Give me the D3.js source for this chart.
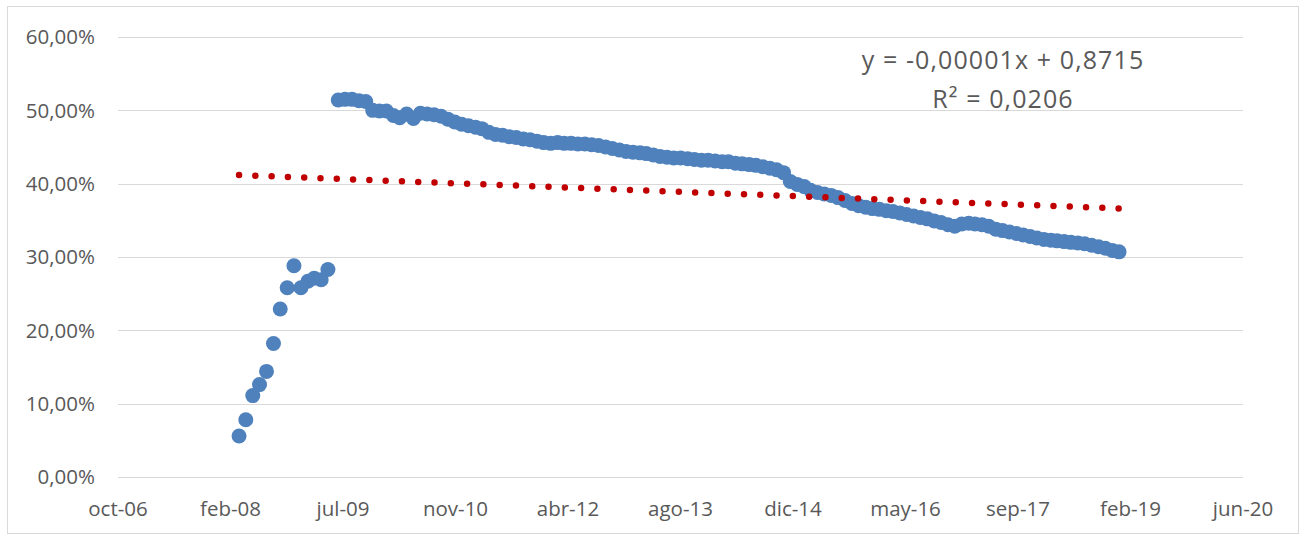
<!DOCTYPE html>
<html>
<head>
<meta charset="utf-8">
<script src="https://cdn.jsdelivr.net/npm/d3@7"></script>
<style>
  body { margin: 0; background: #fff; }
  text { font-family: "Open Sans", sans-serif; fill: #595959; }
</style>
</head>
<body>
<div id="chart"></div>
<script>
// monthly points, end of month (Mar-08 .. Apr-09), in %
var startDates = ['2008-03-31','2008-04-30','2008-05-31','2008-06-30','2008-07-31','2008-08-31',
  '2008-09-30','2008-10-31','2008-11-30','2008-12-31','2009-01-31','2009-02-28','2009-03-31','2009-04-30']
var startValues = [5.6, 7.8, 11.1, 12.6, 14.4, 18.2, 22.9, 25.8, 28.8, 25.8, 26.7, 27.1, 26.9, 28.3]

// dense part, one value per month (15th), by year, in %
var ratios2009 = [51.4, 51.5, 51.5, 51.3, 51.2, 50.0, 49.9]   // jun..dic
var ratios2010 = [49.9, 49.3, 49.0, 49.5, 48.9, 49.6, 49.5, 49.4, 49.2, 48.8, 48.4, 48.1]
var ratios2011 = [47.9, 47.7, 47.5, 47.0, 46.7, 46.6, 46.4, 46.3, 46.1, 46.0, 45.8, 45.6]
var ratios2012 = [45.5, 45.6, 45.5, 45.5, 45.4, 45.4, 45.3, 45.2, 45.0, 44.8, 44.6, 44.4]
var ratios2013 = [44.3, 44.2, 44.1, 43.9, 43.7, 43.6, 43.5, 43.5, 43.4, 43.3, 43.2, 43.2]
var ratios2014 = [43.1, 43.0, 43.0, 42.8, 42.7, 42.6, 42.5, 42.3, 42.1, 41.9, 41.5, 40.3]
var ratios2015 = [39.9, 39.6, 39.1, 38.8, 38.6, 38.4, 38.1, 37.7, 37.3, 37.0, 36.8, 36.6]
var ratios2016 = [36.5, 36.3, 36.2, 36.0, 35.8, 35.6, 35.4, 35.2, 34.9, 34.7, 34.4, 34.2]
var ratios2017 = [34.5, 34.6, 34.5, 34.4, 34.2, 33.8, 33.6, 33.4, 33.2, 33.0, 32.8, 32.6]
var ratios2018 = [32.4, 32.3, 32.2, 32.1, 32.0, 31.9, 31.8, 31.6, 31.4, 31.2, 30.9, 30.7]

// linear trend as printed by the chart (x = excel day serial)
var trendSlope = -0.00001163
var trendIntercept = 0.8715
var trendLabel = ['y = -0,00001x + 0,8715', 'R² = 0,0206']

var xTicks = [39000, 39500, 40000, 40500, 41000, 41500, 42000, 42500, 43000, 43500, 44000]
var xTickLabels = ['oct-06','feb-08','jul-09','nov-10','abr-12','ago-13','dic-14','may-16','sep-17','feb-19','jun-20']
var yTicks = [0, 0.1, 0.2, 0.3, 0.4, 0.5, 0.6]

var W = 1305, H = 536
var m = {left: 118, right: 62, top: 37, bottom: 59}

function serial(s){
  var p = s.split('-').map(Number)
  return (Date.UTC(p[0], p[1]-1, p[2]) - Date.UTC(1899, 11, 30)) / 864e5
}

var data = startDates.map(function(d, i){ return {x: serial(d), y: startValues[i]/100} })
var years = {2009: ratios2009, 2010: ratios2010, 2011: ratios2011, 2012: ratios2012, 2013: ratios2013,
  2014: ratios2014, 2015: ratios2015, 2016: ratios2016, 2017: ratios2017, 2018: ratios2018}
Object.keys(years).forEach(function(yr){
  var vals = years[yr]
  var first = 12 - vals.length
  vals.forEach(function(v, i){
    var mo = first + i + 1
    data.push({x: serial(yr + '-' + (mo < 10 ? '0' + mo : mo) + '-15'), y: v/100})
  })
})

var svg = d3.select('#chart').append('svg').attr('width', W).attr('height', H)

svg.append('rect').attr('x', 7.5).attr('y', 6.5).attr('width', 1291).attr('height', 527)
  .attr('fill', '#fff').attr('stroke', '#d9d9d9')

var x = d3.scaleLinear().domain([39000, 44000]).range([m.left, W - m.right])
var y = d3.scaleLinear().domain([0, 0.6]).range([H - m.bottom, m.top])

var loc = d3.formatLocale({decimal: ',', thousands: '.', grouping: [3], currency: ['', '€']})
var pct = loc.format('.2%')

svg.append('g').selectAll('line').data(yTicks).join('line')
  .attr('x1', m.left).attr('x2', W - m.right)
  .attr('y1', function(d){ return Math.round(y(d)) + 0.5 })
  .attr('y2', function(d){ return Math.round(y(d)) + 0.5 })
  .attr('stroke', '#d9d9d9').attr('stroke-width', 1)

svg.append('g').selectAll('text').data(yTicks).join('text')
  .attr('x', 95).attr('y', function(d){ return y(d) })
  .attr('dy', '0.36em').attr('text-anchor', 'end')
  .style('font-size', '20.5px')
  .text(function(d){ return pct(d) })

svg.append('g').selectAll('text').data(xTicks).join('text')
  .attr('x', function(d){ return x(d) }).attr('y', 516)
  .attr('text-anchor', 'middle')
  .style('font-size', '20.5px')
  .text(function(d, i){ return xTickLabels[i] })

svg.append('g').selectAll('circle').data(data).join('circle')
  .attr('cx', function(d){ return x(d.x) })
  .attr('cy', function(d){ return y(d.y) })
  .attr('r', 7.5)
  .attr('fill', '#4f81bd')

var x0 = data[0].x, x1 = data[data.length-1].x
svg.append('line')
  .attr('x1', x(x0)).attr('y1', y(trendIntercept + trendSlope*x0))
  .attr('x2', x(x1)).attr('y2', y(trendIntercept + trendSlope*x1))
  .attr('stroke', '#c00000').attr('stroke-width', 6.5)
  .attr('stroke-linecap', 'round').attr('stroke-dasharray', '0 16.3')

svg.append('g').selectAll('text').data(trendLabel).join('text')
  .attr('x', 1003).attr('y', function(d, i){ return 69 + i*39 })
  .attr('text-anchor', 'middle')
  .style('font-size', '25px').style('letter-spacing', '1.1px')
  .text(function(d){ return d })
</script>
</body>
</html>
